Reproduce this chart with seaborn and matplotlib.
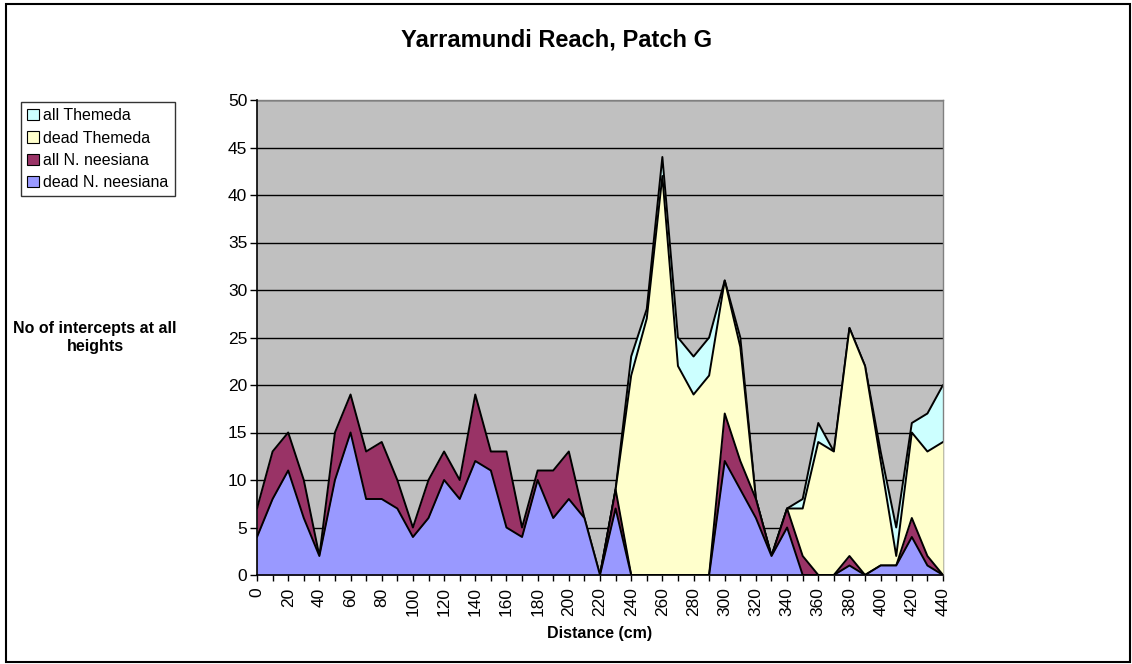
import matplotlib
matplotlib.use("Agg")
import matplotlib.pyplot as plt
from matplotlib.patches import Patch, Rectangle
import seaborn as sns

# Distance along the transect (cm)
distance = list(range(0, 450, 10))

# Intercept counts
all_themeda = [0, 0, 0, 0, 0, 0, 0, 0, 0, 0, 0, 0, 0, 0, 0, 0, 0, 0, 0, 0, 0, 0, 0,
               9, 23, 28, 44, 25, 23, 25, 31, 25, 8, 2, 7, 8, 16, 13, 26, 22, 13, 5,
               16, 17, 20]
dead_themeda = [0, 0, 0, 0, 0, 0, 0, 0, 0, 0, 0, 0, 0, 0, 0, 0, 0, 0, 0, 0, 0, 0, 0,
                9, 21, 27, 42, 22, 19, 21, 31, 24, 8, 2, 7, 7, 14, 13, 26, 22, 12, 2,
                15, 13, 14]
all_neesiana = [7, 13, 15, 10, 2, 15, 19, 13, 14, 10, 5, 10, 13, 10, 19, 13, 13, 5,
                11, 11, 13, 6, 0, 9, 0, 0, 0, 0, 0, 0, 17, 12, 8, 2, 7, 2, 0, 0, 2,
                0, 1, 1, 6, 2, 0]
dead_neesiana = [4, 8, 11, 6, 2, 10, 15, 8, 8, 7, 4, 6, 10, 8, 12, 11, 5, 4, 10, 6,
                 8, 6, 0, 7, 0, 0, 0, 0, 0, 0, 12, 9, 6, 2, 5, 0, 0, 0, 1, 0, 1, 1,
                 4, 1, 0]

series_names = ["all Themeda", "dead Themeda", "all N. neesiana", "dead N. neesiana"]
series_colors = ["#CCFFFF", "#FFFFCC", "#993366", "#9999FF"]

sns.set_theme(style="white")
plt.rcParams["font.family"] = ["Liberation Sans", "DejaVu Sans"]
plt.rcParams["text.color"] = "black"
plt.rcParams["axes.labelcolor"] = "black"
plt.rcParams["xtick.color"] = "black"
plt.rcParams["ytick.color"] = "black"

fig = plt.figure(figsize=(11.32, 6.64), dpi=100)
ax = fig.add_axes([257 / 1132, 1 - 575 / 664, 686 / 1132, 475 / 664])
ax.set_facecolor("#C0C0C0")

series_values = [all_themeda, dead_themeda, all_neesiana, dead_neesiana]
for i, (vals, color) in enumerate(zip(series_values, series_colors)):
    ax.fill_between(distance, vals, 0, color=color, lw=0, zorder=2 + i)
    sns.lineplot(x=distance, y=vals, color="black", lw=1.4, ax=ax,
                 zorder=2.5 + i, legend=False)

ax.set_xlim(0, 440)
ax.set_ylim(0, 50)
ax.set_yticks(range(0, 55, 5))
ax.set_xticks(range(0, 450, 20))
ax.set_xticks(range(10, 450, 20), minor=True)
ax.tick_params(axis="x", which="both", direction="out", length=4, width=1,
               color="black", labelcolor="black", bottom=True, pad=5,
               labelsize=12.5, labelrotation=90)
ax.tick_params(axis="y", direction="out", length=5, width=1, color="black",
               labelcolor="black", left=True, pad=2, labelsize=12.5)

ax.yaxis.grid(True, color="black", lw=1)
ax.xaxis.grid(False)
ax.set_axisbelow(True)

for side in ["left", "bottom"]:
    ax.spines[side].set_color("black")
    ax.spines[side].set_linewidth(1.2)
    ax.spines[side].set_zorder(10)
for side in ["top", "right"]:
    ax.spines[side].set_color("#808080")
    ax.spines[side].set_linewidth(1)

ax.set_xlabel("Distance (cm)", fontsize=11.5, fontweight="bold", labelpad=7,
              color="black")
ax.set_ylabel("")

fig.text(557 / 1132, 1 - 40 / 664, "Yarramundi Reach, Patch G",
         ha="center", va="center", fontsize=17, fontweight="bold",
         color="black")
fig.text(95 / 1132, 1 - 338 / 664, "No of intercepts at all\nheights",
         ha="center", va="center", fontsize=11.5, fontweight="bold",
         linespacing=1.25, color="black")

handles = [Patch(facecolor=c, edgecolor="black", lw=0.8) for c in series_colors]
leg = fig.legend(handles, series_names, loc="upper left",
                 bbox_to_anchor=(21 / 1132, 1 - 102 / 664), frameon=True,
                 fancybox=False, shadow=False, fontsize=11.5,
                 handlelength=0.7, handleheight=0.7, handletextpad=0.3,
                 labelspacing=0.45, borderpad=0.4, borderaxespad=0,
                 labelcolor="black")
leg.get_frame().set_edgecolor("black")
leg.get_frame().set_linewidth(1)

fig.patches.append(Rectangle((6 / 1132, 2 / 664), 1124 / 1132, 658 / 664,
                             transform=fig.transFigure, fill=False,
                             edgecolor="black", lw=1.5))

fig.savefig("out.png", dpi=100, facecolor="white")
